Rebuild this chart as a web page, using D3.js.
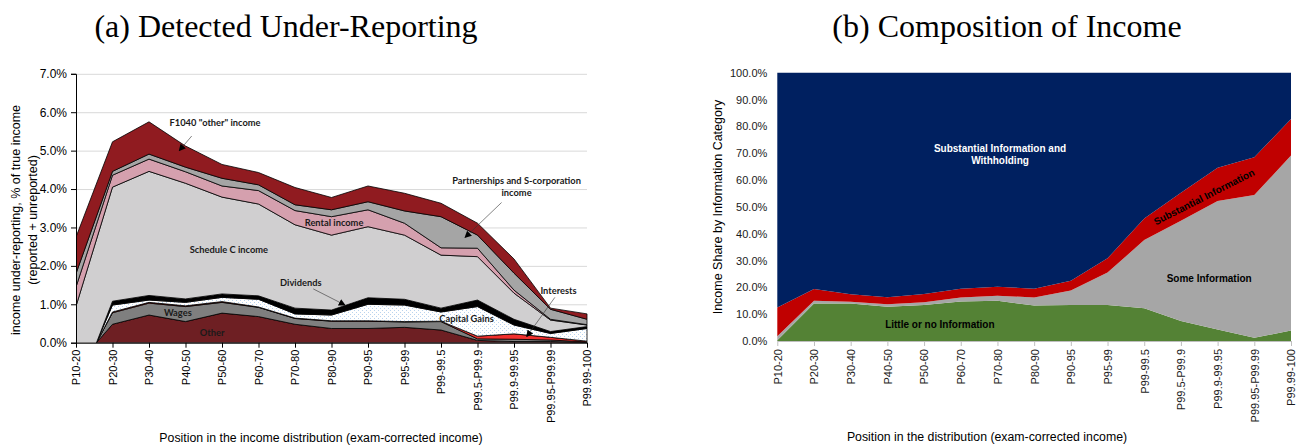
<!DOCTYPE html>
<html>
<head>
<meta charset="utf-8">
<script src="https://d3js.org/d3.v7.min.js"></script>
<style>
  body { margin: 0; background: #fff; }
  svg { display: block; }
  .tick text { font-family: "Liberation Sans", Arial, sans-serif; }
</style>
</head>
<body>
<div id="chart"></div>
<script>
// percentile groups
const categories = ["P10-20", "P20-30", "P30-40", "P40-50", "P50-60", "P60-70", "P70-80", "P80-90",
  "P90-95", "P95-99", "P99-99.5", "P99.5-P99.9", "P99.9-99.95", "P99.95-P99.99", "P99.99-100"];

// (a) under-reporting by income source, % of true income (bottom to top)
const otherInc    = [-0.61, 0.48, 0.72, 0.55, 0.77, 0.68, 0.48, 0.37, 0.37, 0.40, 0.33, 0.06, 0.03, 0.03, 0.01];
const wages       = [-0.38, 0.30, 0.31, 0.39, 0.28, 0.24, 0.15, 0.19, 0.19, 0.14, 0.22, 0.04, 0.06, 0.04, 0.01];
const interests   = [-0.03, 0.02, 0.02, 0.02, 0.02, 0.01, 0.01, 0.01, 0.01, 0.01, 0.01, 0.07, 0.14, 0.07, 0.02];
const capGains    = [-0.22, 0.18, 0.06, 0.09, 0.11, 0.20, 0.11, 0.15, 0.43, 0.43, 0.24, 0.77, 0.23, 0.10, 0.33];
const dividends   = [-0.14, 0.10, 0.12, 0.09, 0.09, 0.09, 0.15, 0.13, 0.17, 0.15, 0.10, 0.17, 0.15, 0.05, 0.05];
const scheduleC   = [2.33, 2.97, 3.23, 3.01, 2.52, 2.39, 2.17, 1.95, 1.85, 1.67, 1.38, 1.13, 0.68, 0.30, 0.04];
const rental      = [0.50, 0.31, 0.32, 0.30, 0.29, 0.35, 0.37, 0.48, 0.44, 0.31, 0.19, 0.22, 0.08, 0.02, 0.01];
const partnership = [0.35, 0.10, 0.13, 0.12, 0.20, 0.15, 0.15, 0.18, 0.21, 0.32, 0.81, 0.34, 0.44, 0.26, 0.14];
const f1040Other  = [0.95, 0.77, 0.84, 0.55, 0.36, 0.32, 0.45, 0.32, 0.41, 0.46, 0.35, 0.31, 0.37, 0.03, 0.14];

// (b) income share by information category, % (bottom to top)
const littleInfo      = [0.3, 14.0, 14.0, 12.8, 13.4, 14.7, 15.0, 13.2, 13.4, 13.4, 12.2, 7.5, 4.3, 1.2, 3.9];
const someInfo        = [1.5, 1.0, 0.6, 0.9, 1.0, 1.5, 1.9, 3.0, 5.4, 12.1, 25.4, 37.3, 47.9, 53.2, 65.2];
const substantialInfo = [10.7, 4.4, 2.8, 2.6, 3.1, 3.3, 3.3, 3.3, 3.7, 5.3, 8.1, 10.5, 12.4, 14.1, 13.6];
const withholding     = [87.5, 80.6, 82.6, 83.7, 82.5, 80.5, 79.8, 80.5, 77.5, 69.2, 54.3, 44.7, 35.4, 31.5, 17.3];

const ticksA = [0, 1, 2, 3, 4, 5, 6, 7];
const ticksB = [0, 10, 20, 30, 40, 50, 60, 70, 80, 90, 100];

const W = 1308, H = 448;
const svg = d3.select("#chart").append("svg").attr("width", W).attr("height", H);
const defs = svg.append("defs");

// dotted fill for capital gains
const pat = defs.append("pattern").attr("id", "dots")
  .attr("patternUnits", "userSpaceOnUse").attr("width", 4).attr("height", 4);
pat.append("rect").attr("width", 4).attr("height", 4).attr("fill", "#fff");
pat.append("rect").attr("x", 0).attr("y", 0).attr("width", 1).attr("height", 1).attr("fill", "#b9d3ee");
pat.append("rect").attr("x", 2).attr("y", 2).attr("width", 1).attr("height", 1).attr("fill", "#b9d3ee");

defs.append("marker").attr("id", "arrow")
  .attr("viewBox", "0 0 8 8").attr("refX", 7).attr("refY", 4)
  .attr("markerWidth", 7).attr("markerHeight", 7)
  .attr("markerUnits", "userSpaceOnUse").attr("orient", "auto")
  .append("path").attr("d", "M0,0 L8,4 L0,8 z").attr("fill", "#000");

const sans = "'Liberation Sans', Arial, sans-serif";
const serif = "'Liberation Serif', 'Times New Roman', serif";

function buildRows(series) {
  return categories.map((c, i) => {
    const row = { cat: c };
    series.forEach(s => row[s.key] = s.values[i]);
    return row;
  });
}

// ---------- (a) Detected Under-Reporting ----------
const A = { left: 76, right: 587, top: 73.8, bottom: 342.7 };
const seriesA = [
  { key: "Other", values: otherInc, fill: "#6e1f23" },
  { key: "Wages", values: wages, fill: "#7f7f7f" },
  { key: "Interests", values: interests, fill: "#f0302e" },
  { key: "Capital Gains", values: capGains, fill: "url(#dots)" },
  { key: "Dividends", values: dividends, fill: "#000" },
  { key: "Schedule C", values: scheduleC, fill: "#d0cfd0" },
  { key: "Rental", values: rental, fill: "#d5a0ae" },
  { key: "Partnerships", values: partnership, fill: "#a5a5a5" },
  { key: "F1040", values: f1040Other, fill: "#901b20" }
];

const xA = d3.scalePoint().domain(categories).range([A.left, A.right]);
const yA = d3.scaleLinear().domain([0, 7]).range([A.bottom, A.top]);
const xiA = i => A.left + i * xA.step();

const gA = svg.append("g");

// gridlines
gA.append("g").attr("transform", `translate(${A.left},0)`)
  .call(d3.axisLeft(yA).tickValues(ticksA).tickSize(-(A.right - A.left)).tickFormat(""))
  .call(g => g.select(".domain").remove())
  .call(g => g.selectAll("line").attr("stroke", "#d9d9d9").attr("stroke-width", 1));

defs.append("clipPath").attr("id", "clipA").append("rect")
  .attr("x", A.left).attr("y", A.top - 2).attr("width", A.right - A.left + 2).attr("height", A.bottom - A.top + 2);

const stackA = d3.stack().keys(seriesA.map(s => s.key)).offset(d3.stackOffsetNone)(buildRows(seriesA));
const areaA = d3.area().x(d => xA(d.data.cat)).y0(d => yA(d[0])).y1(d => yA(d[1]));

gA.append("g").attr("clip-path", "url(#clipA)")
  .selectAll("path").data(stackA).join("path")
  .attr("d", areaA)
  .attr("fill", (d, i) => seriesA[i].fill)
  .attr("stroke", "#000").attr("stroke-width", 0.8).attr("stroke-linejoin", "round");

// axes
gA.append("g").attr("transform", `translate(${A.left},0)`)
  .call(d3.axisLeft(yA).tickValues(ticksA).tickSize(5).tickPadding(4).tickFormat(d => d.toFixed(1) + "%"))
  .call(g => g.selectAll("text").attr("font-size", 12).attr("fill", "#000"))
  .call(g => g.selectAll("line, .domain").attr("stroke", "#000"));

gA.append("g").attr("transform", `translate(0,${A.bottom})`)
  .call(d3.axisBottom(xA).tickSize(5).tickSizeOuter(0))
  .call(g => g.selectAll("line, .domain").attr("stroke", "#000"))
  .call(g => g.selectAll("text")
    .attr("font-size", 11).attr("fill", "#000")
    .attr("transform", "rotate(-90)").attr("text-anchor", "end")
    .attr("x", -7).attr("y", 0).attr("dy", "0.35em"));

gA.append("text").attr("x", 286).attr("y", 37).attr("text-anchor", "middle")
  .attr("font-family", serif).attr("font-size", 32).text("(a) Detected Under-Reporting");

gA.append("text").attr("x", 321).attr("y", 442).attr("text-anchor", "middle")
  .attr("font-family", sans).attr("font-size", 12.3).text("Position in the income distribution (exam-corrected income)");

const yLabA = gA.append("text").attr("transform", "translate(16,220) rotate(-90)")
  .attr("text-anchor", "middle").attr("font-family", sans).attr("font-size", 12.5);
yLabA.append("tspan").attr("x", 0).attr("dy", "0.35em").text("income under-reporting, % of true income");
yLabA.append("tspan").attr("x", 0).attr("dy", "1.3em").text("(reported + unreported)");

// annotations, positions in (category index, value) space
const labelsA = [
  { t: "F1040 \"other\" income", i: 3.81, v: 5.64 },
  { t: "Rental income", i: 7.07, v: 3.04 },
  { t: "Schedule C income", i: 4.19, v: 2.34 },
  { t: "Dividends", i: 6.16, v: 1.48 },
  { t: "Wages", i: 2.79, v: 0.70 },
  { t: "Other", i: 3.73, v: 0.18 },
  { t: "Partnerships and S-corporation", i: 12.07, v: 4.14 },
  { t: "income", i: 12.07, v: 3.83 },
  { t: "Interests", i: 13.22, v: 1.28 },
  { t: "Capital Gains", i: 10.7, v: 0.54 }
];
const arrowsA = [
  { i0: 3.17, v0: 5.38, i1: 2.83, v1: 5.0 },
  { i0: 6.5, v0: 1.40, i1: 7.37, v1: 0.98 },
  { i0: 11.66, v0: 3.65, i1: 10.66, v1: 2.74 },
  { i0: 13.12, v0: 1.18, i1: 12.35, v1: 0.16 }
];
gA.selectAll(".lab").data(labelsA).join("text")
  .attr("x", d => xiA(d.i)).attr("y", d => yA(d.v))
  .attr("text-anchor", "middle").attr("font-family", "Lato, 'Open Sans', sans-serif")
  .attr("font-weight", "bold").attr("font-size", 9.3).attr("fill", "#1a1a1a").text(d => d.t);
gA.selectAll(".arr").data(arrowsA).join("line")
  .attr("x1", d => xiA(d.i0)).attr("y1", d => yA(d.v0))
  .attr("x2", d => xiA(d.i1)).attr("y2", d => yA(d.v1))
  .attr("stroke", "#333").attr("stroke-width", 0.6).attr("marker-end", "url(#arrow)");

// ---------- (b) Composition of Income ----------
const B = { left: 777.3, right: 1291, top: 72.7, bottom: 341 };
const seriesB = [
  { key: "Little", values: littleInfo, fill: "#548235" },
  { key: "Some", values: someInfo, fill: "#a6a6a6" },
  { key: "Substantial", values: substantialInfo, fill: "#c00000" },
  { key: "Withholding", values: withholding, fill: "#002060" }
];
const xB = d3.scalePoint().domain(categories).range([B.left, B.right]);
const yB = d3.scaleLinear().domain([0, 100]).range([B.bottom, B.top]);
const xiB = i => B.left + i * xB.step();

const gB = svg.append("g");
const stackB = d3.stack().keys(seriesB.map(s => s.key))(buildRows(seriesB));
const areaB = d3.area().x(d => xB(d.data.cat)).y0(d => yB(d[0])).y1(d => yB(d[1]));
gB.append("g").selectAll("path").data(stackB).join("path")
  .attr("d", areaB).attr("fill", (d, i) => seriesB[i].fill);

gB.append("g").attr("transform", `translate(${B.left},0)`)
  .call(d3.axisLeft(yB).tickValues(ticksB).tickSize(0).tickPadding(10).tickFormat(d => d.toFixed(1) + "%"))
  .call(g => g.select(".domain").remove())
  .call(g => g.selectAll("text").attr("font-size", 11).attr("fill", "#1a1a1a"));

gB.append("g").attr("transform", `translate(0,${B.bottom})`)
  .call(d3.axisBottom(xB).tickSize(5).tickSizeOuter(0))
  .call(g => g.selectAll("line, .domain").attr("stroke", "#bfbfbf"))
  .call(g => g.selectAll("text")
    .attr("font-size", 11).attr("fill", "#1a1a1a")
    .attr("transform", "rotate(-90)").attr("text-anchor", "end")
    .attr("x", -8).attr("y", 0).attr("dy", "0.35em"));

gB.append("text").attr("x", 1007).attr("y", 37).attr("text-anchor", "middle")
  .attr("font-family", serif).attr("font-size", 32).text("(b) Composition of Income");

gB.append("text").attr("x", 987).attr("y", 441).attr("text-anchor", "middle")
  .attr("font-family", sans).attr("font-size", 12.3).text("Position in the distribution (exam-corrected income)");

gB.append("text").attr("transform", "translate(718,207) rotate(-90)")
  .attr("text-anchor", "middle").attr("dy", "0.35em").attr("font-family", sans).attr("font-size", 12.5)
  .text("Income Share by Information Category");

const labelsB = [
  { t: "Substantial Information and", i: 6.07, v: 70.4, c: "#fff", r: 0 },
  { t: "Withholding", i: 6.07, v: 66.0, c: "#fff", r: 0 },
  { t: "Little or no Information", i: 4.43, v: 4.66, c: "#000", r: 0 },
  { t: "Some Information", i: 11.77, v: 22.0, c: "#000", r: 0 },
  { t: "Substantial Information", i: 11.63, v: 53.7, c: "#000", r: -27 }
];
gB.selectAll(".labB").data(labelsB).join("text")
  .attr("transform", d => `translate(${xiB(d.i)},${yB(d.v)}) rotate(${d.r})`)
  .attr("text-anchor", "middle").attr("dy", d => d.r ? "0.35em" : 0)
  .attr("font-family", sans).attr("font-weight", "bold").attr("font-size", 10)
  .attr("fill", d => d.c).text(d => d.t);
</script>
</body>
</html>
